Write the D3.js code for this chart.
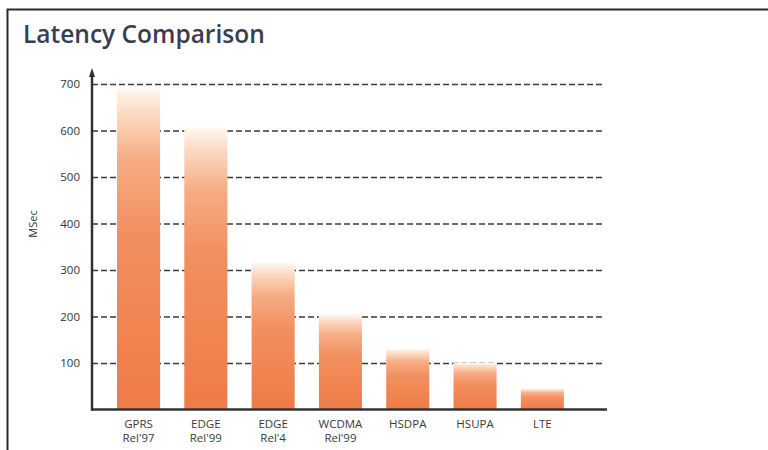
<!DOCTYPE html>
<html>
<head>
<meta charset="utf-8">
<script src="https://cdn.jsdelivr.net/npm/d3@7"></script>
<style>
  html, body { margin: 0; padding: 0; background: #fff; }
  svg { display: block; }
</style>
</head>
<body>
<svg id="chart" width="768" height="450"></svg>
<script>
const categories = ["GPRS|Rel'97", "EDGE|Rel'99", "EDGE|Rel'4", "WCDMA|Rel'99", "HSDPA", "HSUPA", "LTE"];
const latencyMs = [690, 605, 315, 205, 130, 100, 45];
const yTicks = [100, 200, 300, 400, 500, 600, 700];
const titleText = "Latency Comparison";
const yLabel = "MSec";

const svg = d3.select("#chart");
const font = "'Open Sans', 'Noto Sans', sans-serif";

// frame
svg.append("rect")
  .attr("x", 7.5).attr("y", 9.5).attr("width", 775).attr("height", 460)
  .attr("fill", "#fff").attr("stroke", "#2a2a2a").attr("stroke-width", 2);

// title
svg.append("text")
  .attr("x", 23).attr("y", 43)
  .attr("font-family", font)
  .attr("font-size", 24.5)
  .attr("font-weight", 600)
  .attr("fill", "#3a3d52")
  .text(titleText);

const x = d3.scaleBand()
  .domain(categories)
  .range([92, 607])
  .paddingInner(0.36)
  .paddingOuter(0.506)
  .align(0.367);

const y = d3.scaleLinear().domain([0, 700]).range([409.5, 84]);

// gradient
const defs = svg.append("defs");
const grad = defs.append("linearGradient")
  .attr("id", "barGrad").attr("x1", 0).attr("y1", 0).attr("x2", 0).attr("y2", 1);
[[0, "#fff7f0"], [0.08, "#fcd9c2"], [0.22, "#f6ac84"], [0.45, "#f28f5f"], [1, "#ef7b46"]]
  .forEach(([o, c]) => grad.append("stop").attr("offset", o).attr("stop-color", c));

// gridlines
const grid = svg.append("g")
  .attr("transform", "translate(92,0)")
  .call(d3.axisLeft(y).tickValues(yTicks).tickSize(-511).tickFormat(""));
grid.select(".domain").remove();
grid.selectAll(".tick line")
  .attr("stroke", "#3a3a3a").attr("stroke-width", 1.3).attr("stroke-dasharray", "6,3");

// bars
svg.append("g").selectAll("rect")
  .data(categories)
  .join("rect")
  .attr("x", d => x(d))
  .attr("width", x.bandwidth())
  .attr("y", (d, i) => y(latencyMs[i]))
  .attr("height", (d, i) => y(0) - y(latencyMs[i]))
  .attr("fill", "url(#barGrad)");

// y tick labels
const yAxis = svg.append("g")
  .attr("transform", "translate(80,0)")
  .call(d3.axisLeft(y).tickValues(yTicks).tickSize(0).tickPadding(0));
yAxis.select(".domain").remove();
yAxis.selectAll("text")
  .attr("font-family", font).attr("font-size", 11.5).attr("fill", "#333");

// x labels
const xAxis = svg.append("g")
  .attr("transform", `translate(0,${y(0)})`)
  .call(d3.axisBottom(x).tickSize(0).tickPadding(0).tickFormat(""));
xAxis.select(".domain").remove();
xAxis.selectAll(".tick").each(function(d) {
  const lines = d.split("|");
  const t = d3.select(this).append("text")
    .attr("text-anchor", "middle")
    .attr("font-family", font)
    .attr("font-size", 11.5)
    .attr("fill", "#3a3a3a");
  lines.forEach((ln, i) => {
    t.append("tspan").attr("x", 0).attr("y", 18 + i * 14).text(ln);
  });
});

// axis lines
svg.append("line")
  .attr("x1", 92).attr("x2", 92).attr("y1", 72).attr("y2", y(0) + 1)
  .attr("stroke", "#333").attr("stroke-width", 2.5);
svg.append("path")
  .attr("d", "M92,68 L95,77 L89,77 Z")
  .attr("fill", "#333");
svg.append("line")
  .attr("x1", 91).attr("x2", 607).attr("y1", y(0)).attr("y2", y(0))
  .attr("stroke", "#333").attr("stroke-width", 2.5);

// y label
svg.append("text")
  .attr("transform", "translate(37,224) rotate(-90)")
  .attr("text-anchor", "middle")
  .attr("font-family", font)
  .attr("font-size", 11)
  .attr("fill", "#333")
  .text(yLabel);
</script>
</body>
</html>
